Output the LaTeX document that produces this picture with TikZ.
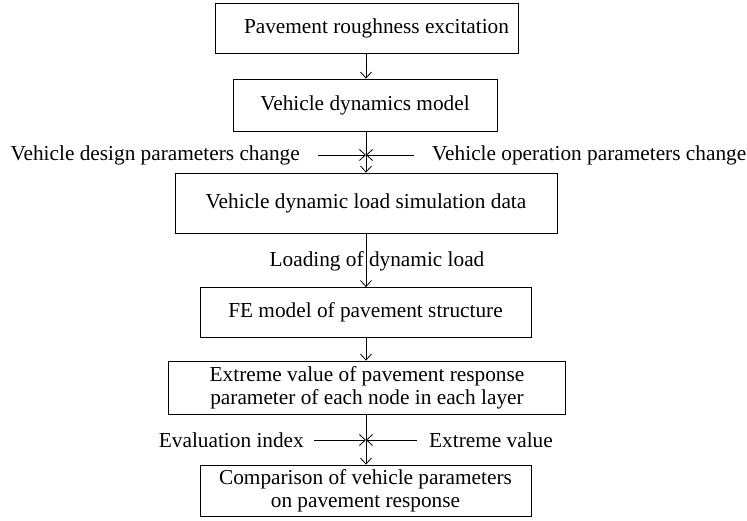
\documentclass[tikz,border=0pt]{standalone}
\usepackage{fontspec}
\setmainfont{Liberation Serif}
\usetikzlibrary{arrows.meta}
\begin{document}
\begin{tikzpicture}[x=1pt,y=-1pt,
  box/.style={draw,line width=0.8pt,inner sep=0pt,align=center,font=\fontsize{21.3}{23}\selectfont},
  lbl/.style={inner sep=0pt,font=\fontsize{21.3}{23}\selectfont},
  arr/.style={line width=0.8pt,-{Straight Barb[length=6pt,width=11pt]}}]
\useasboundingbox (0,0) rectangle (747,520);
\node[box,minimum width=303pt,minimum height=50pt] (b1) at (366.5,28) {\hspace*{20pt}Pavement roughness excitation};
\node[box,minimum width=264pt,minimum height=52pt] (b2) at (365,105) {Vehicle dynamics model};
\node[box,minimum width=382pt,minimum height=60pt] (b3) at (366,203) {Vehicle dynamic load simulation data};
\node[box,minimum width=331pt,minimum height=50pt] (b4) at (365.5,312.5) {FE model of pavement structure};
\node[box,minimum width=397pt,minimum height=53pt] (b5) at (367,387.5) {Extreme value of pavement response\\parameter of each node in each layer};
\node[box,minimum width=331pt,minimum height=51pt] (b6) at (365.5,490.5) {Comparison of vehicle parameters\\on pavement response};
% connectors
\draw[arr] (b1.south -| 366,0) -- (b2.north -| 366,0);
\draw[arr] (b2.south -| 366,0) -- (b3.north -| 366,0);
\draw[arr] (b3.south -| 366,0) -- (b4.north -| 366,0);
\draw[arr] (b4.south -| 366,0) -- (b5.north -| 366,0);
\draw[arr] (b5.south -| 366,0) -- (b6.north -| 366,0);
% side inputs 1
\coordinate (j1) at (366,155);
\coordinate (ja) at (318,155);
\coordinate (jb) at (414,155);
\node[lbl,anchor=east] (l1) at (300,155) {Vehicle design parameters change};
\node[lbl,anchor=west] (r1) at (432,155) {Vehicle operation parameters change};
\draw[arr] (ja) -- (j1);
\draw[arr] (jb) -- (j1);
% loading label
\node[lbl] (ld) at (377,261) {Loading of dynamic load};
% side inputs 2
\coordinate (j2) at (366,440);
\coordinate (jc) at (314,440);
\coordinate (jd) at (417,440);
\node[lbl,anchor=east] (l2) at (304,440) {Evaluation index};
\node[lbl,anchor=west] (r2) at (429,440) {Extreme value};
\draw[arr] (jc) -- (j2);
\draw[arr] (jd) -- (j2);
\end{tikzpicture}
\end{document}
